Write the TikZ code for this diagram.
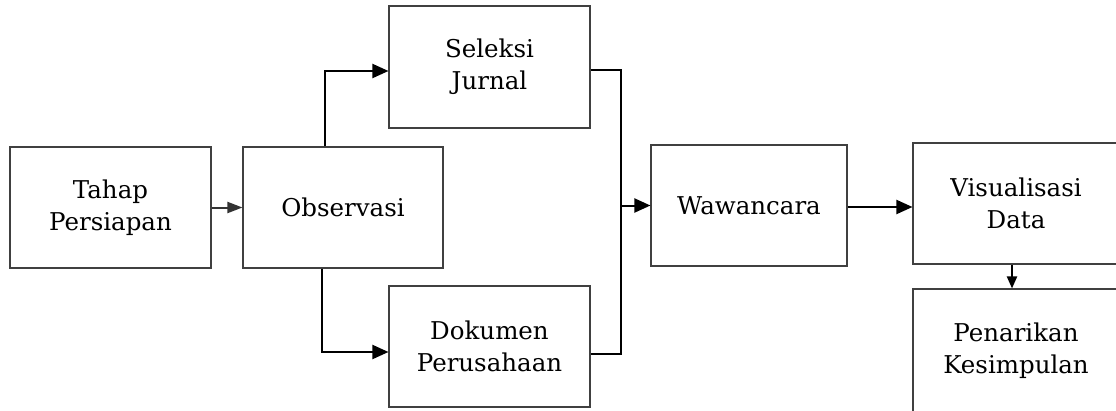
\documentclass[tikz,border=0pt]{standalone}
\usepackage{fontspec}
\setmainfont{DejaVu Serif}
\usetikzlibrary{arrows.meta}
\begin{document}
\begin{tikzpicture}[x=1pt,y=-1pt,
  box/.style={draw=black!75, line width=1.1pt, fill=white, align=center, inner sep=0pt,
    font=\fontsize{24.5}{32}\selectfont},
  conn/.style={draw=black, line width=2pt},
  arr/.style={conn, -{Triangle[length=16pt,width=14pt]}},
  sarr/.style={conn, -{Triangle[length=15pt,width=11pt]}},
  darr/.style={conn, -{Triangle[length=12pt,width=10pt]}}]
\useasboundingbox (0,0) rectangle (1116,410);
\clip (0,0) rectangle (1116,410);
\fill[white] (0,0) rectangle (1116,410);
\node[box, minimum width=201pt, minimum height=121pt] (tahap) at (110.5,207.5) {Tahap\\Persiapan};
\node[box, minimum width=200pt, minimum height=121pt] (obs) at (343,207.5) {Observasi};
\node[box, minimum width=201pt, minimum height=122pt] (sel) at (489.5,67) {Seleksi\\Jurnal};
\node[box, minimum width=201pt, minimum height=121pt] (dok) at (489.5,346.5) {Dokumen\\Perusahaan};
\node[box, minimum width=196pt, minimum height=121pt] (waw) at (749,205.5) {Wawancara};
\node[box, minimum width=206pt, minimum height=121pt] (vis) at (1016,203.5) {Visualisasi\\Data};
\node[box, minimum width=206pt, minimum height=124pt] (pen) at (1016,351) {Penarikan\\Kesimpulan};
\coordinate (mtop) at (621,70);
\coordinate (mbot) at (621,354);
\draw[sarr, draw=black!80] (tahap.east) -- (obs.west);
\draw[arr] ([xshift=-18pt]obs.north) |- ([yshift=-4pt]sel.west);
\draw[arr] ([xshift=-21pt]obs.south) |- ([yshift=-5.5pt]dok.west);
\draw[conn] ([yshift=-3pt]sel.east) -- (mtop) -- (mbot) -- ([yshift=-7.5pt]dok.east);
\draw[arr] (waw.west -| mtop) -- (waw.west);
\draw[arr] ([yshift=-1.5pt]waw.east) -- ([yshift=-3.5pt]vis.west);
\draw[darr] ([xshift=-4pt]vis.south) -- ([xshift=-4pt]pen.north);
\end{tikzpicture}
\end{document}
